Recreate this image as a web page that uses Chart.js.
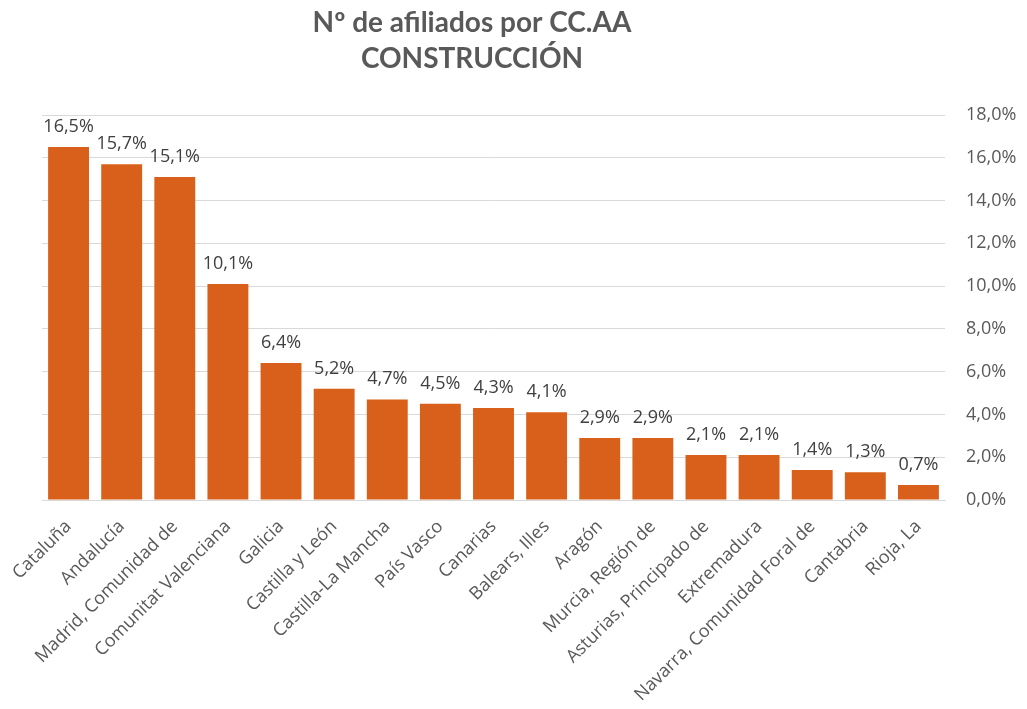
<!DOCTYPE html>
<html>
<head>
<meta charset="utf-8">
<script src="https://cdn.jsdelivr.net/npm/chart.js@4"></script>
<style>
  html, body { margin: 0; padding: 0; background: #fff; }
  #wrap { position: relative; width: 1027px; height: 709px; }
</style>
</head>
<body>
<div id="wrap"><canvas id="chart"></canvas></div>
<script>
const regions = [
  "Cataluña", "Andalucía", "Madrid, Comunidad de", "Comunitat Valenciana",
  "Galicia", "Castilla y León", "Castilla-La Mancha", "País Vasco", "Canarias",
  "Balears, Illes", "Aragón", "Murcia, Región de", "Asturias, Principado de",
  "Extremadura", "Navarra, Comunidad Foral de", "Cantabria", "Rioja, La"
];
const shares = [16.5, 15.7, 15.1, 10.1, 6.4, 5.2, 4.7, 4.5, 4.3, 4.1, 2.9, 2.9, 2.1, 2.1, 1.4, 1.3, 0.7];
const yTicks = [0, 2, 4, 6, 8, 10, 12, 14, 16, 18];
const titleLines = ["Nº de afiliados por CC.AA", "CONSTRUCCIÓN"];

const pct = v => v.toFixed(1).replace(".", ",") + "%";

// value labels above each bar
const barLabels = {
  id: "barLabels",
  afterDatasetsDraw(chart) {
    const ctx = chart.ctx;
    const meta = chart.getDatasetMeta(0);
    ctx.save();
    ctx.font = "18px 'Open Sans', sans-serif";
    ctx.fillStyle = "#404040";
    ctx.textAlign = "center";
    ctx.textBaseline = "alphabetic";
    meta.data.forEach((bar, i) => {
      ctx.fillText(pct(shares[i]), bar.x, bar.y - 15);
    });
    ctx.restore();
  }
};

// title, centred a bit left of the canvas middle like the original
const chartTitle = {
  id: "chartTitle",
  afterDraw(chart) {
    const ctx = chart.ctx;
    ctx.save();
    ctx.font = "bold 28px Lato, sans-serif";
    ctx.fillStyle = "#595959";
    ctx.textAlign = "center";
    ctx.textBaseline = "middle";
    titleLines.forEach((t, i) => ctx.fillText(t, 472, 23 + i * 36));
    ctx.restore();
  }
};

const ctx = document.getElementById("chart").getContext("2d");
new Chart(ctx, {
  type: "bar",
  data: {
    labels: regions,
    datasets: [{
      data: shares,
      backgroundColor: "#D9601A",
      barPercentage: 0.77,
      categoryPercentage: 1
    }]
  },
  options: {
    responsive: true,
    maintainAspectRatio: false,
    animation: false,
    layout: { padding: { left: 42, right: 0, top: 115, bottom: 0 } },
    scales: {
      x: {
        grid: { display: false },
        border: { color: "#d9d9d9" },
        ticks: {
          color: "#595959",
          font: { family: "'Open Sans', sans-serif", size: 18 },
          minRotation: 45,
          maxRotation: 45,
          autoSkip: false,
          padding: 8
        },
        afterFit(scale) { scale.height = 209; }
      },
      y: {
        position: "right",
        min: 0,
        max: 18,
        afterBuildTicks(scale) { scale.ticks = yTicks.map(v => ({ value: v })); },
        grid: { color: "#d9d9d9", drawTicks: false },
        border: { display: false },
        ticks: {
          color: "#595959",
          font: { family: "'Open Sans', sans-serif", size: 18 },
          padding: 21,
          callback: v => pct(v)
        },
        afterFit(scale) { scale.width = 82; }
      }
    },
    plugins: {
      legend: { display: false },
      tooltip: { enabled: false },
      title: { display: false }
    }
  },
  plugins: [barLabels, chartTitle]
});
</script>
</body>
</html>
